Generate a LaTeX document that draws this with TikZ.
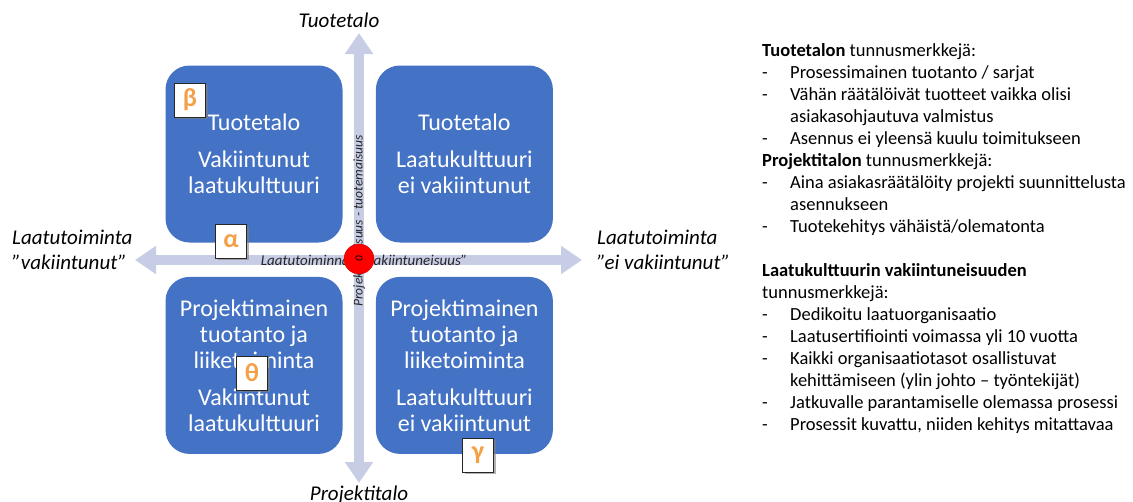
\documentclass[tikz,border=0pt]{standalone}
\usepackage{fontspec}
\setmainfont{Carlito}
\usepackage{xcolor}
\usetikzlibrary{arrows.meta,positioning,shadows}
\definecolor{qblue}{RGB}{68,114,196}
\definecolor{axisc}{RGB}{200,205,230}
\definecolor{lorange}{RGB}{244,160,72}
\newcommand{\itm}[1]{\makebox[28pt][l]{-}#1}
\newcommand{\cnt}[1]{\hspace*{28pt}#1}

\begin{document}
\begin{tikzpicture}[
  x=1pt,y=-1pt,
  node distance=33pt,
  quad/.style={fill=qblue,rounded corners=24pt,minimum width=177pt,minimum height=177pt,
    text=white,align=center,font=\fontsize{24}{26}\selectfont,inner sep=0pt},
  tag/.style={draw=black!85,fill=white,line width=0.8pt,text=lorange,
    font=\fontsize{26}{26}\selectfont\bfseries,minimum width=31pt,minimum height=34pt,inner sep=0pt,
    drop shadow={shadow xshift=2pt,shadow yshift=-2pt,fill=black!50,opacity=0.6}},
  axis/.style={line width=10pt,draw=axisc,
    {Triangle[width=27pt,length=21pt]}-{Triangle[width=27pt,length=21pt]}},
  axlabel/.style={font=\fontsize{21}{25}\selectfont\itshape,align=left,inner sep=0pt},
  midlabel/.style={font=\fontsize{15}{15}\selectfont\itshape,text=black!85,inner sep=0pt},
  notes/.style={font=\fontsize{18.5}{22}\selectfont,align=left,inner sep=0pt}
]
\useasboundingbox (0,0) rectangle (1133,501);
\clip (0,0) rectangle (1133,501);

% axes
\coordinate (west) at (135,260);
\coordinate (east) at (582,260);
\coordinate (north) at (359,33);
\coordinate (south) at (359,483);
\draw[axis] (west) -- (east);
\draw[axis] (north) -- (south);

% quadrants
\node[quad] (tl) at (254,154) {Tuotetalo\\[11pt]Vakiintunut\\laatukulttuuri};
\node[quad,right=of tl] (tr) {Tuotetalo\\[11pt]Laatukulttuuri\\ei vakiintunut};
\node[quad,below=34pt of tl] (bl) {Projektimainen\\tuotanto ja\\liiketoiminta\\[11pt]Vakiintunut\\laatukulttuuri};
\node[quad,right=of bl] (br) {Projektimainen\\tuotanto ja\\liiketoiminta\\[11pt]Laatukulttuuri\\ei vakiintunut};

% greek tags
\node[tag] (beta) at (190,100) {β};
\node[tag] (alpha) at (231,241) {α};
\node[tag] (theta) at (252,373) {θ};
\node[tag] (gamma) at (478,455) {γ};

% axis texts
\node[midlabel] (qlab) at (364,260) {Laatutoiminnan ”vakiintuneisuus”};
\node[midlabel,font=\fontsize{13.5}{13.5}\selectfont\itshape,rotate=90] (plab) at (359,221) {Projektimaisuus - tuotemaisuus};
\node[circle,fill=red,draw=red!80!black,minimum size=30pt,inner sep=0pt,
  font=\fontsize{11}{11}\selectfont\itshape,rotate=90] (origin) at (359,259) {0};

\node[axlabel] (ytop) at (339,20) {Tuotetalo};
\node[axlabel,anchor=base] (ybot) at (359,500) {Projektitalo};
\node[axlabel,anchor=west] (xleft) at (12,250) {Laatutoiminta\\”vakiintunut”};
\node[axlabel,anchor=west] (xright) at (597,250) {Laatutoiminta\\”ei vakiintunut”};

% characteristics
\node[notes,anchor=north west] (notes) at (762,43) {%
\textbf{Tuotetalon} tunnusmerkkejä:\\
\itm{Prosessimainen tuotanto / sarjat}\\
\itm{Vähän räätälöivät tuotteet vaikka olisi}\\
\cnt{asiakasohjautuva valmistus}\\
\itm{Asennus ei yleensä kuulu toimitukseen}\\
\textbf{Projektitalon} tunnusmerkkejä:\\
\itm{Aina asiakasräätälöity projekti suunnittelusta}\\
\cnt{asennukseen}\\
\itm{Tuotekehitys vähäistä/olematonta}\\[22pt]
\textbf{Laatukulttuurin vakiintuneisuuden}\\
tunnusmerkkejä:\\
\itm{Dedikoitu laatuorganisaatio}\\
\itm{Laatusertifiointi voimassa yli 10 vuotta}\\
\itm{Kaikki organisaatiotasot osallistuvat}\\
\cnt{kehittämiseen (ylin johto – työntekijät)}\\
\itm{Jatkuvalle parantamiselle olemassa prosessi}\\
\itm{Prosessit kuvattu, niiden kehitys mitattavaa}};
\end{tikzpicture}
\end{document}
